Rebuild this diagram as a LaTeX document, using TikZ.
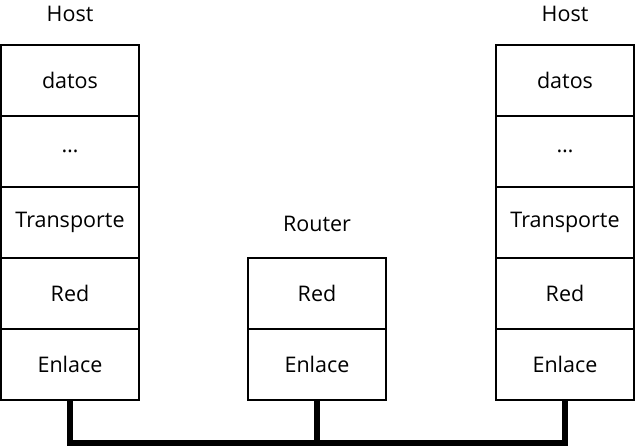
\documentclass[tikz,border=0pt]{standalone}
\usepackage{fontspec}
\setmainfont{Open Sans}
\usetikzlibrary{positioning}

\begin{document}
\begin{tikzpicture}[x=1pt,y=-1pt,node distance=71pt,
                    font=\fontsize{21.5}{26}\selectfont]
  \tikzstyle{layer}=[draw=black,line width=1.5pt,minimum width=138pt,minimum height=71pt,inner sep=0pt]
  \tikzstyle{wire}=[line width=5.5pt,line join=miter]

  \useasboundingbox (0,0) rectangle (636,446);

  % host izquierdo
  \node (HA)                  at (70,14)   {Host};
  \node[layer] (A1)           at (70,80.5) {datos};
  \node[layer] (A2) [below of=A1] {…};
  \node[layer] (A3) [below of=A2] {Transporte};
  \node[layer] (A4) [below of=A3] {Red};
  \node[layer] (A5) [below of=A4] {Enlace};

  % router
  \node (HB)                  at (317,224)  {Router};
  \node[layer] (B1)           at (317,293.5) {Red};
  \node[layer] (B2) [below of=B1] {Enlace};

  % host derecho
  \node (HC)                  at (565,14)   {Host};
  \node[layer] (C1)           at (565,80.5) {datos};
  \node[layer] (C2) [below of=C1] {…};
  \node[layer] (C3) [below of=C2] {Transporte};
  \node[layer] (C4) [below of=C3] {Red};
  \node[layer] (C5) [below of=C4] {Enlace};

  \coordinate (bA) at (70,443);
  \coordinate (bB) at (317,443);
  \coordinate (bC) at (565,443);

  \draw[wire] (A5.south) -- (bA) -- (bC) -- (C5.south);
  \draw[wire] (B2.south) -- (bB);
\end{tikzpicture}
\end{document}
